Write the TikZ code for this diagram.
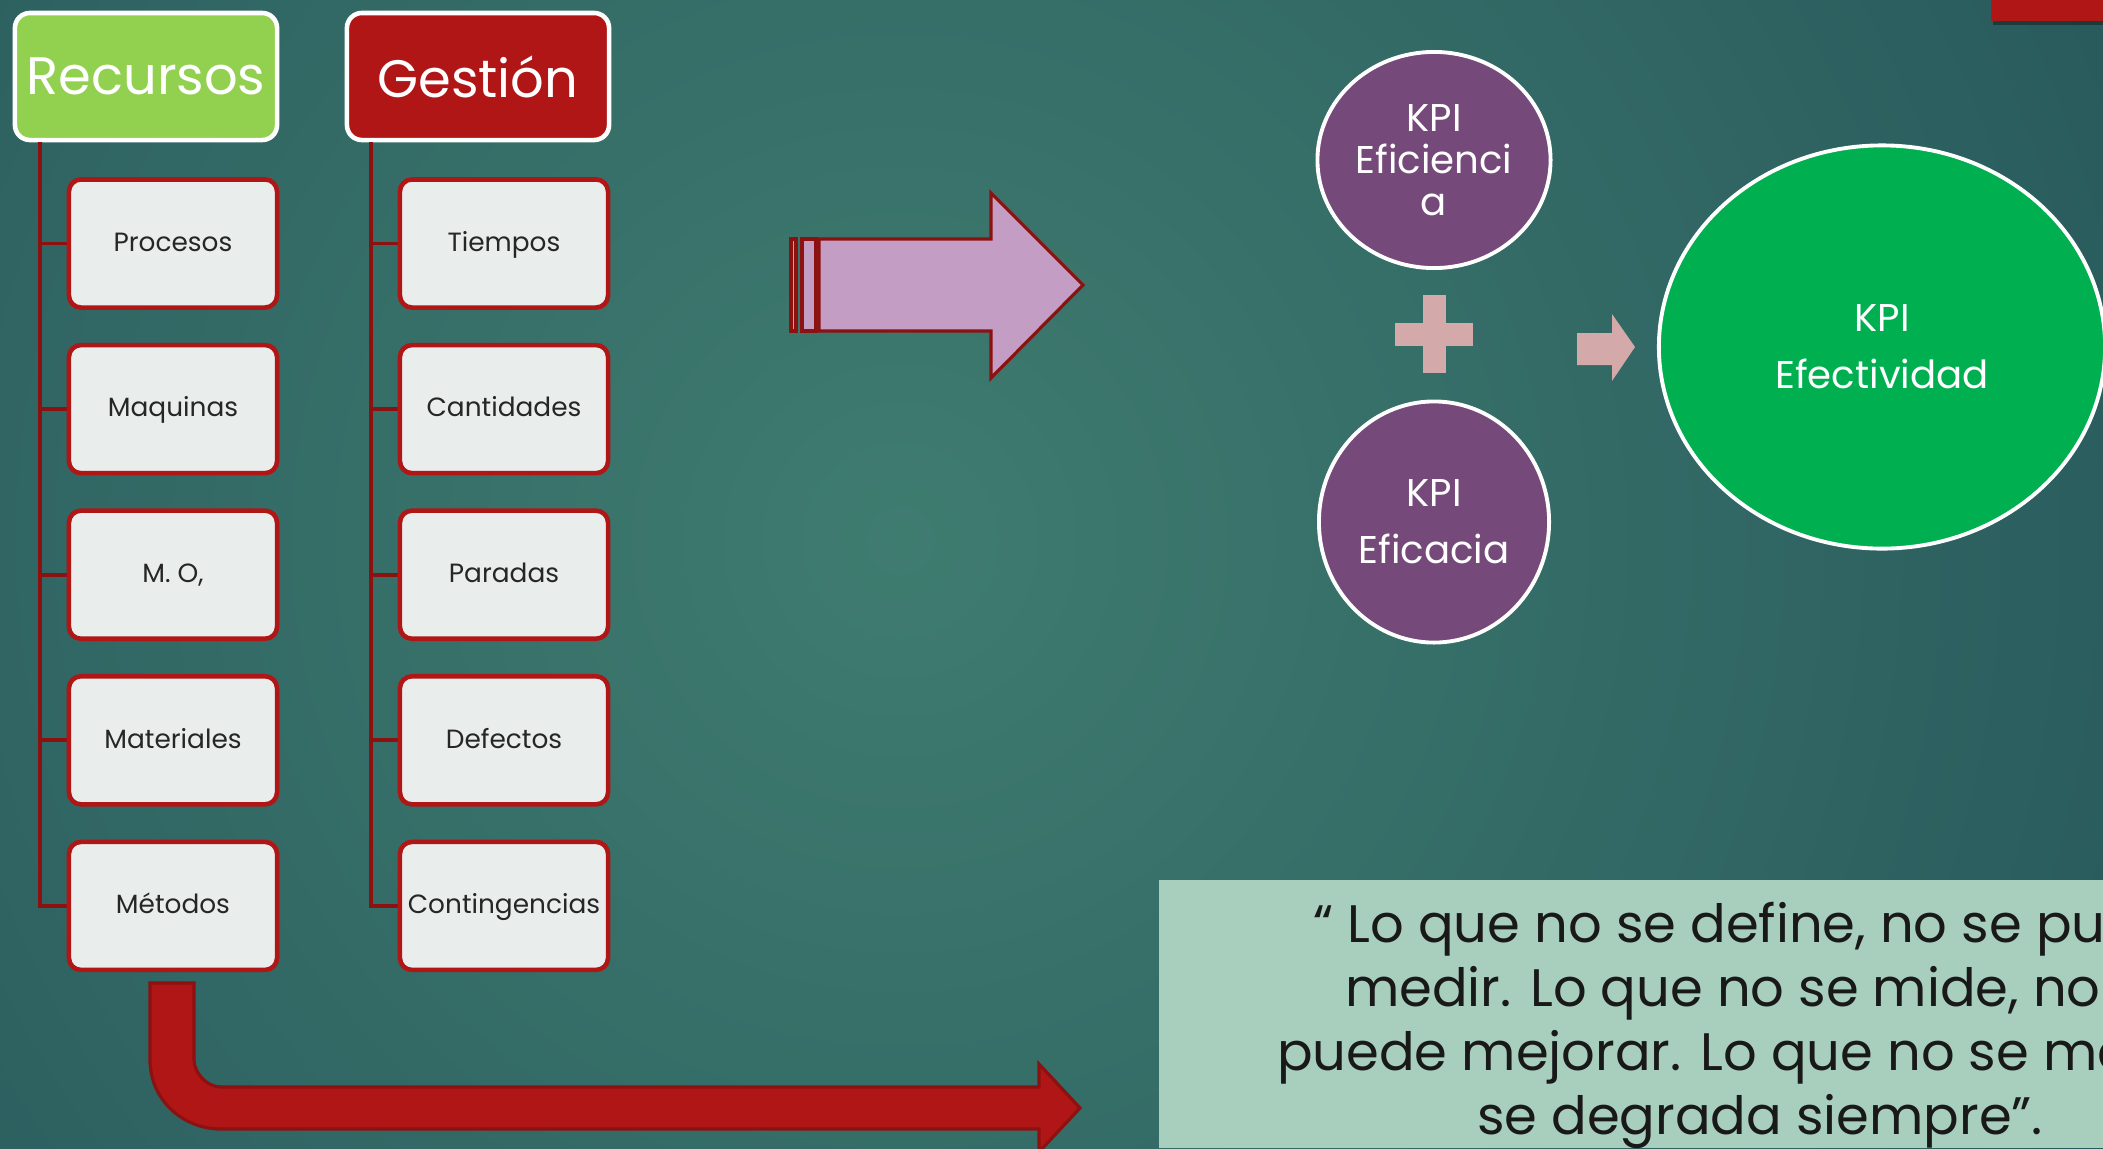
\documentclass[tikz,border=0pt]{standalone}
\usepackage{fontspec}
\setmainfont{Poppins}
\usetikzlibrary{shapes.geometric}
\definecolor{bgdark}{HTML}{1A4450}
\definecolor{bglight}{HTML}{3F7C70}
\definecolor{recgreen}{HTML}{92D050}
\definecolor{gesred}{HTML}{B01616}
\definecolor{linered}{HTML}{8C1111}
\definecolor{boxgray}{HTML}{E9EDEC}
\definecolor{kpipurple}{HTML}{75497A}
\definecolor{kpigreen}{HTML}{00AF50}
\definecolor{arrowpink}{HTML}{C49DC4}
\definecolor{pluspink}{HTML}{D3A9A9}
\definecolor{quotebg}{HTML}{A8CEBD}
\tikzset{
  headbox/.style={draw=white, line width=1.3pt, rounded corners=0.15cm, inner xsep=0pt,
    minimum width=2.62cm, minimum height=1.27cm, text=white,
    font=\fontsize{15}{18}\selectfont},
  childbox/.style={draw=gesred, fill=boxgray, line width=1.3pt, rounded corners=0.12cm,
    inner xsep=1pt, minimum width=2.08cm, minimum height=1.28cm, text=black!85,
    text height=1.1ex, text depth=0.3ex, font=\fontsize{7.5}{9}\selectfont},
  branch/.style={draw=linered, line width=1.1pt},
  blockarrow/.style={draw=linered, line width=0.9pt},
  kpi/.style={ellipse, draw=white, line width=1.1pt, text=white, align=center, inner sep=0pt}
}
\begin{document}
\begin{tikzpicture}[x=0.01cm, y=-0.01cm]
    \useasboundingbox (0,0) rectangle (2103,1148);
    \clip (0,0) rectangle (2103,1148);
    % fondo
    \fill[bgdark] (0,0) rectangle (2103,1148);
    \shade[inner color=bglight, outer color=bgdark] (900,540) circle (22cm);
    \fill[black, opacity=0.35] (1993,0) rectangle (2103,25);
    \fill[gesred] (1991,0) rectangle (2103,21);

    % arboles
    \node[headbox, fill=recgreen] (rec) at (146,76.5) {Recursos};
    \node[headbox, fill=gesred] (ges) at (478,76.5) {Gestión};
    \foreach \lab [count=\i] in {Procesos,Maquinas,{M. O,},Materiales,Métodos}{
        \draw[branch] ([xshift=0.27cm]rec.south west) |- (173,{243.5+165.6*(\i-1)});
        \node[childbox] (rec\i) at (173,{243.5+165.6*(\i-1)}) {\lab};
    }
    \foreach \lab [count=\i] in {Tiempos,Cantidades,Paradas,Defectos,Contingencias}{
        \draw[branch] ([xshift=0.26cm]ges.south west) |- (504,{243.5+165.6*(\i-1)});
        \node[childbox] (ges\i) at (504,{243.5+165.6*(\i-1)}) {\lab};
    }

    % flecha rosa
    \path[blockarrow, fill=arrowpink] (791,239) rectangle (796,331);
    \path[blockarrow, fill=arrowpink] (802,239) rectangle (816,331);
    \path[blockarrow, fill=arrowpink] (819,239) -- (991,239) -- (991,193) -- (1083,285)
        -- (991,378) -- (991,331) -- (819,331) -- cycle;

    % flecha roja
    \path[blockarrow, fill=gesred] (150,983) -- (150,1060) .. controls (150,1099) and (182,1129) .. (221,1129)
        -- (1039,1129) -- (1039,1152) -- (1080,1108) -- (1039,1064) -- (1039,1087)
        -- (221,1087) .. controls (206,1087) and (194,1072) .. (194,1060) -- (194,983) -- cycle;

    % KPI
    \node[kpi, fill=kpipurple, minimum width=2.33cm, minimum height=2.16cm,
        font=\fontsize{11}{12}\selectfont] (efi) at (1434,160) {KPI\\Eficienci\\a};
    \node[kpi, fill=kpipurple, minimum width=2.3cm, minimum height=2.41cm,
        font=\fontsize{11}{16.2}\selectfont] (efa) at (1434,522) {KPI\\Eficacia};
    \node[kpi, fill=kpigreen, minimum width=4.46cm, minimum height=4.03cm,
        font=\fontsize{11}{16.2}\selectfont] (efe) at (1882,347) {KPI\\Efectividad};
    \fill[pluspink] (1395,323) rectangle (1473,346);
    \fill[pluspink] (1423,295) rectangle (1446,373);
    \fill[pluspink] (1577,333) -- (1612,333) -- (1612,314) -- (1635,347)
        -- (1612,381) -- (1612,365) -- (1577,365) -- cycle;

    % cita
    \fill[quotebg] (1159,880) rectangle (2103,1148);
    \node[font=\fontsize{15}{18.2}\selectfont, text=black!90, align=center] (cita) at (1760,1025)
        {“ Lo que no se define, no se puede\\medir. Lo que no se mide, no se\\puede mejorar. Lo que no se mejora,\\se degrada siempre”.};
\end{tikzpicture}
\end{document}
